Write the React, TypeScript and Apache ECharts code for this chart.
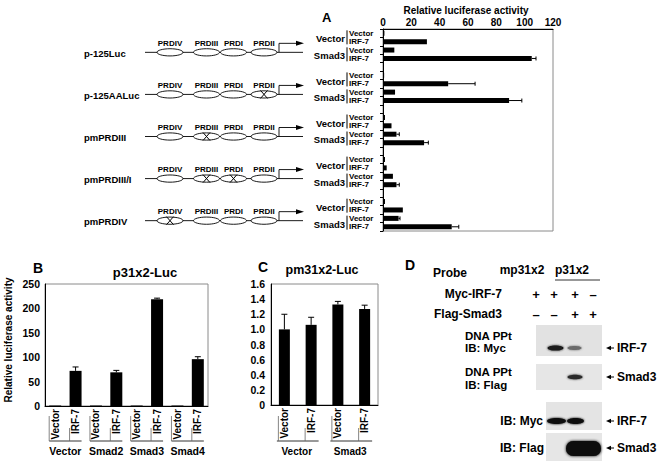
import React, { useEffect, useRef } from "react";
import * as echarts from "echarts";

const FONT = "'Liberation Sans', Arial, Helvetica, sans-serif";

// ---------- Panel A data ----------
const constructNames = ["p-125Luc", "p-125AALuc", "pmPRDIII", "pmPRDIII/I", "pmPRDIV"];
const elementNames = ["PRDIV", "PRDIII", "PRDI", "PRDII"];
const mutatedElements = [[], ["PRDII"], ["PRDIII"], ["PRDIII", "PRDI"], ["PRDIV"]];
const cotransfectionA = ["Vector", "Smad3"];
const expressionA = ["Vector", "IRF-7", "Vector", "IRF-7"];
const activityA = [
  [1, 31, 8, 105],
  [0.8, 46, 8.5, 89],
  [1.4, 6, 9.5, 29],
  [1.4, 2.6, 7, 9.5],
  [1.4, 14, 11, 48.5],
];
const errorA = [
  [0, 0, 0, 3],
  [0, 19, 0, 9],
  [0, 0, 2, 3],
  [0, 0, 0, 2],
  [0, 0, 1, 5],
];

// ---------- Panel B data ----------
const groupsB = ["Vector", "Smad2", "Smad3", "Smad4"];
const expressionB = ["Vector", "IRF-7"];
const activityB = [1, 72, 1, 69, 1, 219, 1, 96];
const errorB = [0, 8, 0, 4, 0, 2, 0, 5];

// ---------- Panel C data ----------
const groupsC = ["Vector", "Smad3"];
const expressionC = ["Vector", "IRF-7"];
const activityC = [1.0, 1.06, 1.33, 1.27];
const errorC = [0.2, 0.1, 0.04, 0.05];

// ---------- Panel D content ----------
const probeLabels = ["mp31x2", "p31x2"];
const mycIrf7 = ["+", "+", "+", "–"];
const flagSmad3 = ["–", "–", "+", "+"];

// layout
const GA = { left: 383, top: 29, width: 170, height: 202 };
const GB = { left: 45, top: 284, width: 163, height: 122 };
const GC = { left: 271, top: 284, width: 107, height: 121 };

const bold = { fontFamily: FONT, fontWeight: "bold" as const, color: "#000" };

function text(x: number, y: number, t: string, size: number, align = "left", extra: any = {}) {
  return {
    type: "text",
    x,
    y,
    silent: true,
    ...extra,
    style: {
      text: t,
      fill: "#000",
      fontFamily: FONT,
      fontWeight: "bold",
      fontSize: size,
      textAlign: align,
      verticalAlign: "middle",
    },
  };
}
function line(x1: number, y1: number, x2: number, y2: number, color = "#000", w = 1) {
  return { type: "line", silent: true, shape: { x1, y1, x2, y2 }, style: { stroke: color, lineWidth: w } };
}

function buildGraphics() {
  const els: any[] = [];
  // panel letters
  els.push(text(322, 17, "A", 13));
  els.push(text(33, 268, "B", 14));
  els.push(text(258, 267, "C", 14));
  els.push(text(405, 265, "D", 14));

  // Panel A title
  els.push(text(GA.left + GA.width / 2 - 2, 10, "Relative luciferase activity", 10, "center"));

  // Panel A constructs
  const slot = GA.height / 24;
  const ellX = [170, 206.5, 233.5, 264];
  constructNames.forEach((name, g) => {
    const gc = GA.top + slot * (5 * g + 2);
    const ly = gc + 6.5;
    els.push(text(84, ly + 1, name, 9.5));
    els.push(line(145, ly, 303, ly, "#000", 0.9));
    elementNames.forEach((el, i) => {
      const cx = ellX[i];
      els.push({
        type: "ellipse",
        silent: true,
        shape: { cx, cy: ly, rx: 13, ry: 3.6 },
        style: { fill: "#fff", stroke: "#000", lineWidth: 0.9 },
      });
      els.push(text(cx, ly - 9, el, 8, "center"));
      if (mutatedElements[g].includes(el)) {
        els.push(line(cx - 3.5, ly - 4, cx + 3.5, ly + 4, "#000", 1));
        els.push(line(cx + 3.5, ly - 4, cx - 3.5, ly + 4, "#000", 1));
      }
    });
    // transcription start arrow
    els.push({
      type: "polyline",
      silent: true,
      shape: { points: [[279, ly], [279, ly - 9], [297, ly - 9]] },
      style: { stroke: "#000", lineWidth: 0.9, fill: null },
    });
    els.push({
      type: "polygon",
      silent: true,
      shape: { points: [[296, ly - 11.5], [304, ly - 9], [296, ly - 6.5]] },
      style: { fill: "#000" },
    });
    // co-transfection group labels
    els.push(text(345, gc - slot + 1.5, cotransfectionA[0], 9.5, "right"));
    els.push(text(345, gc + slot + 1.5, cotransfectionA[1], 9.5, "right"));
    els.push(line(347, gc - 15.5, 347, gc - 1.5));
    els.push(line(347, gc + 1.5, 347, gc + 15.5));
  });

  // Panel B annotations
  els.push(text(145, 272, "p31x2-Luc", 13, "center"));
  els.push(text(8, 340, "Relative luciferase activity", 10, "center", { rotation: Math.PI / 2 }));
  const wB = GB.width / 8;
  groupsB.forEach((gname, g) => {
    const c0 = GB.left + wB * (2 * g + 0.5);
    const c1 = GB.left + wB * (2 * g + 1.5);
    els.push(line(c0 - 6, 441, c1 + 6, 441, "#333", 1));
    els.push(line(c0 - 6, 416, c0 - 6, 441, "#666", 0.8));
    els.push(line(c1 - 6, 428, c1 - 6, 441, "#666", 0.8));
    els.push(text((c0 + c1) / 2, 451, gname, 10.5, "center"));
  });

  // Panel C annotations
  els.push(text(322, 270, "pm31x2-Luc", 12.5, "center"));
  const wC = GC.width / 4;
  groupsC.forEach((gname, g) => {
    const c0 = GC.left + wC * (2 * g + 0.5);
    const c1 = GC.left + wC * (2 * g + 1.5);
    els.push(line(c0 - 7.5, 441, c1 + 7.5, 441, "#333", 1));
    els.push(line(c0 - 6, 416, c0 - 6, 441, "#666", 0.8));
    els.push(line(c1 - 6, 428, c1 - 6, 441, "#666", 0.8));
    els.push(text((c0 + c1) / 2 - 1, 451, gname, 10, "center"));
  });

  // Panel D
  const lanes = [536, 554, 575, 593];
  els.push(text(433, 273, "Probe", 12));
  els.push(text(522, 270, probeLabels[0], 12, "center"));
  els.push(text(572, 270, probeLabels[1], 12, "center"));
  els.push(line(555, 280, 600, 280, "#333", 1));
  els.push(text(502, 294, "Myc-IRF-7", 12, "right"));
  els.push(text(502, 314, "Flag-Smad3", 12, "right"));
  lanes.forEach((x, i) => {
    els.push(text(x, 294, mycIrf7[i], 13, "center"));
    els.push(text(x, 314, flagSmad3[i], 13, "center"));
  });
  const blot = (x: number, y: number, w: number, h: number, fill: string) => ({
    type: "rect",
    silent: true,
    shape: { x, y, width: w, height: h },
    style: { fill },
  });
  const band = (cx: number, cy: number, rx: number, ry: number, fill: string, blur = 2) => ({
    type: "ellipse",
    silent: true,
    shape: { cx, cy, rx, ry },
    style: { fill, shadowBlur: blur, shadowColor: fill },
  });
  const arrowLabel = (y: number, t: string) => {
    els.push({
      type: "polygon",
      silent: true,
      shape: { points: [[606, y], [611, y - 2.3], [611, y + 2.3]] },
      style: { fill: "#000" },
    });
    els.push(line(610, y, 614, y, "#000", 1));
    els.push(text(617, y, t, 12));
  };
  // blot 1
  els.push(blot(536, 325, 66, 31, "#e2e2e2"));
  els.push(band(555.5, 348, 8, 2.6, "#1a1a1a"));
  els.push(band(574.5, 348, 7, 2, "#6a6a6a"));
  els.push(text(465, 336, "DNA PPt", 11.5));
  els.push(text(465, 347.5, "IB: Myc", 11.5));
  arrowLabel(348, "IRF-7");
  // blot 2
  els.push(blot(536, 364, 66, 26, "#e6e6e6"));
  els.push(band(575, 377, 7.5, 2.3, "#2a2a2a"));
  els.push(text(465, 372, "DNA PPt", 11.5));
  els.push(text(465, 385, "IB: Flag", 11.5));
  arrowLabel(377, "Smad3");
  // blot 3
  els.push(blot(546, 402, 56, 28, "#e4e4e4"));
  els.push(band(556.5, 421, 9.5, 3, "#111"));
  els.push(band(575.5, 421, 8.5, 3, "#111"));
  els.push(text(543, 421, "IB: Myc", 12, "right"));
  arrowLabel(421, "IRF-7");
  // blot 4
  els.push(blot(546, 433, 56, 28, "#e6e6e6"));
  els.push({
    type: "rect",
    silent: true,
    shape: { x: 566, y: 441, width: 35, height: 15, r: 7 },
    style: { fill: "#080808", shadowBlur: 3, shadowColor: "#000" },
  });
  els.push(text(544, 448, "IB: Flag", 12, "right"));
  arrowLabel(448, "Smad3");

  return els;
}

function buildOption(): any {
  // Panel A categories (4 bars per construct + a blank slot between constructs)
  const catA: string[] = [];
  const labA: string[] = [];
  const barA: any[] = [];
  const errA: number[][] = [];
  constructNames.forEach((_, g) => {
    expressionA.forEach((lab, k) => {
      const idx = catA.length;
      catA.push(`A${g}-${k}`);
      labA.push(lab);
      barA.push(activityA[g][k]);
      if (errorA[g][k] > 0) errA.push([activityA[g][k], idx, errorA[g][k]]);
    });
    if (g < constructNames.length - 1) {
      catA.push(`gap${g}`);
      labA.push("");
      barA.push("-");
    }
  });

  const catB: string[] = [];
  const labB: string[] = [];
  groupsB.forEach((g) => expressionB.forEach((e) => { catB.push(`${g}|${e}`); labB.push(e); }));
  const errB = activityB.map((v, i) => [i, v, errorB[i]]).filter((d) => d[2] > 0);

  const catC: string[] = [];
  const labC: string[] = [];
  groupsC.forEach((g) => expressionC.forEach((e) => { catC.push(`${g}|${e}`); labC.push(e); }));
  const errC = activityC.map((v, i) => [i, v, errorC[i]]).filter((d) => d[2] > 0);

  const axisBlack = { show: true, lineStyle: { color: "#000", width: 1 } };

  const vErr = (params: any, api: any) => {
    const i = api.value(0);
    const v = api.value(1);
    const e = api.value(2);
    const p0 = api.coord([i, v]);
    const p1 = api.coord([i, v + e]);
    return {
      type: "group",
      children: [
        { type: "line", shape: { x1: p0[0], y1: p0[1], x2: p1[0], y2: p1[1] }, style: { stroke: "#000", lineWidth: 1 } },
        { type: "line", shape: { x1: p1[0] - 3, y1: p1[1], x2: p1[0] + 3, y2: p1[1] }, style: { stroke: "#000", lineWidth: 1 } },
      ],
    };
  };
  const hErr = (params: any, api: any) => {
    const v = api.value(0);
    const i = api.value(1);
    const e = api.value(2);
    const p0 = api.coord([v, i]);
    const p1 = api.coord([v + e, i]);
    return {
      type: "group",
      children: [
        { type: "line", shape: { x1: p0[0], y1: p0[1], x2: p1[0], y2: p1[1] }, style: { stroke: "#000", lineWidth: 1 } },
        { type: "line", shape: { x1: p1[0], y1: p1[1] - 2, x2: p1[0], y2: p1[1] + 2 }, style: { stroke: "#000", lineWidth: 1 } },
      ],
    };
  };

  return {
    animation: false,
    backgroundColor: "#fff",
    textStyle: { fontFamily: FONT },
    grid: [
      { ...GA, show: true, borderColor: "#8a8a8a", borderWidth: 1, containLabel: false },
      { ...GB, show: true, borderColor: "#8a8a8a", borderWidth: 1, containLabel: false },
      { ...GC, show: true, borderColor: "#8a8a8a", borderWidth: 1, containLabel: false },
    ],
    xAxis: [
      {
        gridIndex: 0,
        type: "value",
        position: "top",
        min: 0,
        max: 120,
        interval: 20,
        axisLine: axisBlack,
        axisTick: { show: false },
        axisLabel: { ...bold, fontSize: 10, margin: 2 },
        splitLine: { show: false },
      },
      {
        gridIndex: 1,
        type: "category",
        data: catB,
        axisLine: axisBlack,
        axisTick: { show: false },
        axisLabel: { ...bold, fontSize: 10, rotate: 90, interval: 0, margin: 3, formatter: (_: any, i: number) => labB[i] },
      },
      {
        gridIndex: 2,
        type: "category",
        data: catC,
        axisLine: axisBlack,
        axisTick: { show: false },
        axisLabel: { ...bold, fontSize: 10, rotate: 90, interval: 0, margin: 3, formatter: (_: any, i: number) => labC[i] },
      },
    ],
    yAxis: [
      {
        gridIndex: 0,
        type: "category",
        inverse: true,
        data: catA,
        axisLine: axisBlack,
        axisTick: { show: true, length: 3, interval: 0, lineStyle: { color: "#000" } },
        axisLabel: {
          ...bold,
          fontSize: 8,
          lineHeight: 8,
          interval: 0,
          align: "left",
          margin: 34,
          formatter: (_: any, i: number) => labA[i],
        },
      },
      {
        gridIndex: 1,
        type: "value",
        min: 0,
        max: 250,
        interval: 50,
        axisLine: axisBlack,
        axisTick: { show: false },
        axisLabel: { ...bold, fontSize: 10.5, margin: 5 },
        splitLine: { show: false },
      },
      {
        gridIndex: 2,
        type: "value",
        min: 0,
        max: 1.6,
        interval: 0.2,
        axisLine: axisBlack,
        axisTick: { show: false },
        axisLabel: {
          ...bold,
          fontSize: 10.5,
          margin: 6,
          formatter: (v: number) => (v === 0 ? "0" : v.toFixed(1)),
        },
        splitLine: { show: false },
      },
    ],
    series: [
      { type: "bar", xAxisIndex: 0, yAxisIndex: 0, data: barA, barWidth: 5, itemStyle: { color: "#000" } },
      { type: "custom", xAxisIndex: 0, yAxisIndex: 0, data: errA, encode: { x: 0, y: 1 }, renderItem: hErr, z: 5 },
      { type: "bar", xAxisIndex: 1, yAxisIndex: 1, data: activityB, barWidth: 12, itemStyle: { color: "#000" } },
      { type: "custom", xAxisIndex: 1, yAxisIndex: 1, data: errB, encode: { x: 0, y: 1 }, renderItem: vErr, z: 5 },
      { type: "bar", xAxisIndex: 2, yAxisIndex: 2, data: activityC, barWidth: 11, itemStyle: { color: "#000" } },
      { type: "custom", xAxisIndex: 2, yAxisIndex: 2, data: errC, encode: { x: 0, y: 1 }, renderItem: vErr, z: 5 },
    ],
    graphic: { elements: buildGraphics() },
  };
}

export default function App() {
  const ref = useRef<HTMLDivElement>(null);
  useEffect(() => {
    document.body.style.margin = "0";
    const chart = echarts.init(ref.current!, null, { renderer: "svg" });
    chart.setOption(buildOption());
    return () => chart.dispose();
  }, []);
  return <div ref={ref} style={{ width: 664, height: 462, background: "#fff" }} />;
}
